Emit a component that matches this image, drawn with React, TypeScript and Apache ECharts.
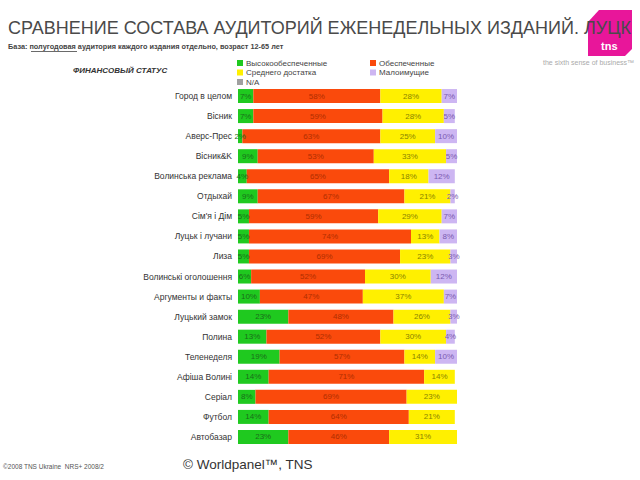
import React, { useEffect, useRef } from "react";
import * as echarts from "echarts";

const categories = [
  "Город в целом",
  "Вісник",
  "Аверс-Прес",
  "Вісник&K",
  "Волинська реклама",
  "Отдыхай",
  "Сім'я і Дім",
  "Луцьк і лучани",
  "Лиза",
  "Волинські оголошення",
  "Аргументы и факты",
  "Луцький замок",
  "Полина",
  "Теленеделя",
  "Афіша Волині",
  "Серіал",
  "Футбол",
  "Автобазар",
];

const seriesNames = ["Высокообеспеченные", "Обеспеченные", "Среднего достатка", "Малоимущие", "N/A"];

const high = [7, 7, 2, 9, 4, 9, 5, 5, 5, 6, 10, 23, 13, 19, 14, 8, 14, 23];
const secured = [58, 59, 63, 53, 65, 67, 59, 74, 69, 52, 47, 48, 52, 57, 71, 69, 64, 46];
const middle = [28, 28, 25, 33, 18, 21, 29, 13, 23, 30, 37, 26, 30, 14, 14, 23, 21, 31];
const poor = [7, 5, 10, 5, 12, 2, 7, 8, 3, 12, 7, 3, 4, 10, null, null, null, null];
const na: (number | null)[] = categories.map(() => null);

const colors = ["#1fc91f", "#fa4a0c", "#fff000", "#cdb6f2", "#a0a0a0"];
const labelColors = ["#1a6e1a", "#b02e00", "#8a8400", "#7a5ab0", "#555"];

export default function App() {
  const ref = useRef<HTMLDivElement>(null);
  useEffect(() => {
    const chart = echarts.init(ref.current!, undefined, { renderer: "svg" });
    const datas = [high, secured, middle, poor, na];
    const font = "Liberation Sans, Arial, sans-serif";
    chart.setOption({
      animation: false,
      textStyle: { fontFamily: font },
      grid: { left: 238, right: 183, top: 86, bottom: 33, containLabel: false },
      xAxis: { type: "value", min: 0, max: 100, show: false },
      yAxis: {
        type: "category",
        data: categories,
        inverse: true,
        axisLine: { show: false },
        axisTick: { show: false },
        axisLabel: { fontSize: 8.5, color: "#333", margin: 6, fontFamily: font },
      },
      legend: [
        {
          data: [seriesNames[0], seriesNames[2], seriesNames[4]],
          orient: "vertical",
          left: 237,
          top: 59,
          itemWidth: 6,
          itemHeight: 6,
          itemGap: 1.5,
          padding: 0,
          icon: "rect",
          textStyle: { fontSize: 8, color: "#444", padding: [0, 0, 0, -2] },
        },
        {
          data: [seriesNames[1], seriesNames[3]],
          orient: "vertical",
          left: 370,
          top: 59,
          itemWidth: 6,
          itemHeight: 6,
          itemGap: 1.5,
          padding: 0,
          icon: "rect",
          textStyle: { fontSize: 8, color: "#444", padding: [0, 0, 0, -2] },
        },
      ],
      series: seriesNames.map((name, i) => ({
        name,
        type: "bar",
        stack: "total",
        barWidth: 14,
        data: datas[i],
        itemStyle: { color: colors[i] },
        label: {
          show: true,
          position: "inside",
          fontSize: 8,
          color: labelColors[i],
          formatter: (p: any) => (p.value ? p.value + "%" : ""),
        },
      })),
      graphic: [
        {
          type: "polygon",
          shape: {
            points: [
              [599, 10],
              [632, 10],
              [632, 49],
              [625, 56],
              [588, 56],
              [588, 22],
            ],
          },
          style: { fill: "#e8169a" },
        },
        {
          type: "text",
          left: 601,
          top: 40,
          style: { text: "tns", fill: "#ffffff", fontSize: 11, fontWeight: "bold", fontFamily: font },
        },
        {
          type: "text",
          left: 8,
          top: 19,
          style: {
            text: "СРАВНЕНИЕ СОСТАВА АУДИТОРИЙ ЕЖЕНЕДЕЛЬНЫХ ИЗДАНИЙ. ЛУЦК",
            fill: "#4a4a4a",
            fontSize: 18,
            fontFamily: font,
          },
        },
        {
          type: "text",
          left: 8,
          top: 43,
          style: {
            text: "База: полугодовая аудитория каждого издания отдельно, возраст 12-65 лет",
            fill: "#444",
            fontSize: 7.3,
            fontWeight: "bold",
            fontFamily: font,
          },
        },
        {
          type: "line",
          shape: { x1: 31, y1: 51.5, x2: 77, y2: 51.5 },
          style: { stroke: "#444", lineWidth: 0.8 },
        },
        {
          type: "text",
          left: 543,
          top: 59,
          style: { text: "the sixth sense of business\u2122", fill: "#aaaaaa", fontSize: 7, fontFamily: font },
        },
        {
          type: "text",
          left: 73,
          top: 66,
          style: {
            text: "ФИНАНСОВЫЙ СТАТУС",
            fill: "#333",
            fontSize: 8,
            fontWeight: "bold",
            fontStyle: "italic",
            fontFamily: font,
          },
        },
        {
          type: "text",
          left: 3,
          top: 463,
          style: { text: "©2008 TNS Ukraine  NRS+ 2008/2", fill: "#555", fontSize: 6.5, fontFamily: font },
        },
        {
          type: "text",
          left: 183,
          top: 457,
          style: { text: "© Worldpanel\u2122, TNS", fill: "#333", fontSize: 13.5, fontFamily: font },
        },
      ],
    });
    return () => chart.dispose();
  }, []);
  return (
    <div
      ref={ref}
      style={{ position: "fixed", left: 0, top: 0, width: 640, height: 480, background: "#fff" }}
    />
  );
}
